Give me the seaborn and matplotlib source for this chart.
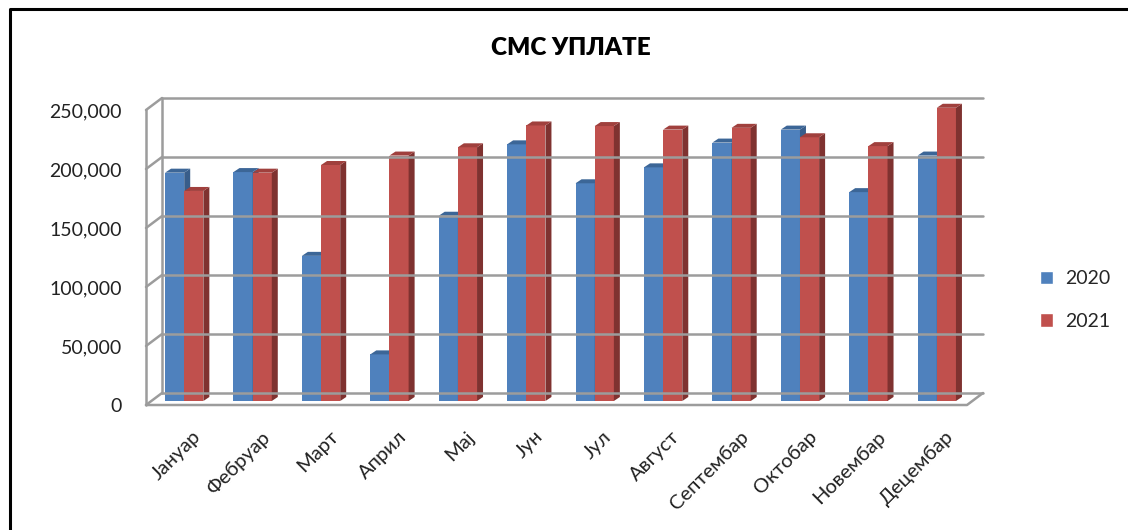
import numpy as np
import pandas as pd
import matplotlib
matplotlib.use("Agg")
import matplotlib.pyplot as plt
import seaborn as sns
from matplotlib.patches import Polygon, Patch
from matplotlib.lines import Line2D
from matplotlib.transforms import IdentityTransform

months = ["Јануар", "Фебруар", "Март", "Април", "Мај", "Јун",
          "Јул", "Август", "Септембар", "Октобар", "Новембар", "Децембар"]
years = ["2020", "2021"]
sms_2020 = [193500, 194000, 123000, 39500, 157000, 217500,
            184500, 198000, 219000, 230000, 177000, 208000]
sms_2021 = [178000, 193500, 200000, 208000, 215000, 233500,
            233000, 230000, 231500, 223500, 216000, 248500]
y_ticks = [0, 50000, 100000, 150000, 200000, 250000]

blue, red = "#4F81BD", "#C0504D"
side_col = {"2020": "#385D8A", "2021": "#7F3230"}
top_col = {"2020": "#3C6697", "2021": "#A0403D"}
grid_col = "#9C9C9C"


def main():
    df = pd.DataFrame({
        "month": months * 2,
        "year": [years[0]] * 12 + [years[1]] * 12,
        "value": sms_2020 + sms_2021,
    })

    sns.set_style("white")
    plt.rcParams["font.family"] = ["Lato", "DejaVu Sans"]

    W, H = 1128, 530
    fig = plt.figure(figsize=(W / 100, H / 100), dpi=100)
    # bar plane of the fake 3D chart, in pixels
    left, right, bottom, top = 150, 971, 401, 106
    ax = fig.add_axes([left / W, 1 - bottom / H, (right - left) / W, (bottom - top) / H])

    sns.barplot(data=df, x="month", y="value", hue="year", palette=[blue, red],
                width=0.56, saturation=1, legend=False, ax=ax, zorder=2,
                linewidth=0, edgecolor="none")
    ax.set_xlim(-0.5, 11.5)
    ax.set_ylim(0, 250000)
    ax.axis("off")
    fig.canvas.draw()

    T = ax.transData
    px = IdentityTransform()

    def disp(x, y, dx=0, dy=0):
        p = T.transform((x, y))
        return (p[0] + dx, p[1] + dy)

    # walls: front plane (-4,-4), back plane (+12,+8) from bar plane
    fx, fy, bx, by = -4, -4, 12, 8
    x0, x1 = ax.get_xlim()
    for v in y_ticks:
        back_l = disp(x0, v, bx, by)
        back_r = disp(x1, v, bx, by)
        front_l = disp(x0, v, fx, fy)
        fig.add_artist(Line2D([back_l[0], back_r[0]], [back_l[1], back_r[1]],
                              transform=px, color=grid_col, lw=1.8, zorder=1))
        fig.add_artist(Line2D([front_l[0], back_l[0]], [front_l[1], back_l[1]],
                              transform=px, color=grid_col, lw=1.8, zorder=1))
        ax.annotate(f"{v:,}", xy=(x0, v), xycoords="data", xytext=(-28, -6),
                    textcoords="offset pixels", ha="right", va="center",
                    fontsize=14, color="#222222", annotation_clip=False)
    # left wall edges
    for dx, dy in [(fx, fy), (bx, by)]:
        a = disp(x0, 0, dx, dy)
        b = disp(x0, y_ticks[-1], dx, dy)
        fig.add_artist(Line2D([a[0], b[0]], [a[1], b[1]], transform=px,
                              color=grid_col, lw=1.8, zorder=1))
    # floor front edge and right diagonal
    fl = disp(x0, 0, fx, fy)
    fr = disp(x1, 0, fx, fy)
    br = disp(x1, 0, bx, by)
    fig.add_artist(Line2D([fl[0], fr[0], br[0]], [fl[1], fr[1], br[1]],
                          transform=px, color=grid_col, lw=1.8, zorder=1))

    # 3D side and top faces of each bar
    d, dy = 6, 4
    for i, bar in enumerate(ax.patches):
        yr = years[0] if i < 12 else years[1]
        z = 2 if yr == years[0] else 3
        bar.set_zorder(z)
        xa = bar.get_x()
        xb = xa + bar.get_width()
        h = bar.get_height()
        p1, p2 = disp(xb, 0), disp(xb, h)
        side = Polygon([p1, p2, (p2[0] + d, p2[1] + dy), (p1[0] + d, p1[1] + dy)],
                       closed=True, transform=px, facecolor=side_col[yr],
                       edgecolor="none", zorder=z + 0.5)
        q1 = disp(xa, h)
        topf = Polygon([q1, p2, (p2[0] + d, p2[1] + dy), (q1[0] + d, q1[1] + dy)],
                       closed=True, transform=px, facecolor=top_col[yr],
                       edgecolor="none", zorder=z + 0.5)
        ax.add_artist(side)
        ax.add_artist(topf)
        side.set_clip_on(False)
        topf.set_clip_on(False)

    # month labels
    for i, m in enumerate(months):
        ax.annotate(m, xy=(i, 0), xycoords="data", xytext=(8, -27),
                    textcoords="offset pixels", ha="right", va="top",
                    rotation=45, rotation_mode="anchor", fontsize=14.5,
                    color="#222222", annotation_clip=False)

    fig.text(571 / W, 1 - 48 / H, "СМС УПЛАТЕ", ha="center", va="center",
             fontsize=17.5, fontweight="heavy", color="black")

    handles = [Patch(facecolor=blue, label="2020"), Patch(facecolor=red, label="2021")]
    fig.legend(handles=handles, loc="center left",
               bbox_to_anchor=(1022 / W, 1 - 300 / H), frameon=False,
               fontsize=14, handlelength=0.7, handleheight=0.7,
               handletextpad=0.6, labelspacing=1.3)

    # frame of the embedded chart
    fig.add_artist(Line2D([9.5 / W, 9.5 / W, 1.0], [0, 1 - 8.5 / H, 1 - 8.5 / H],
                          transform=fig.transFigure, color="black", lw=2.2))

    fig.savefig("out.png", dpi=100)


if __name__ == "__main__":
    main()
